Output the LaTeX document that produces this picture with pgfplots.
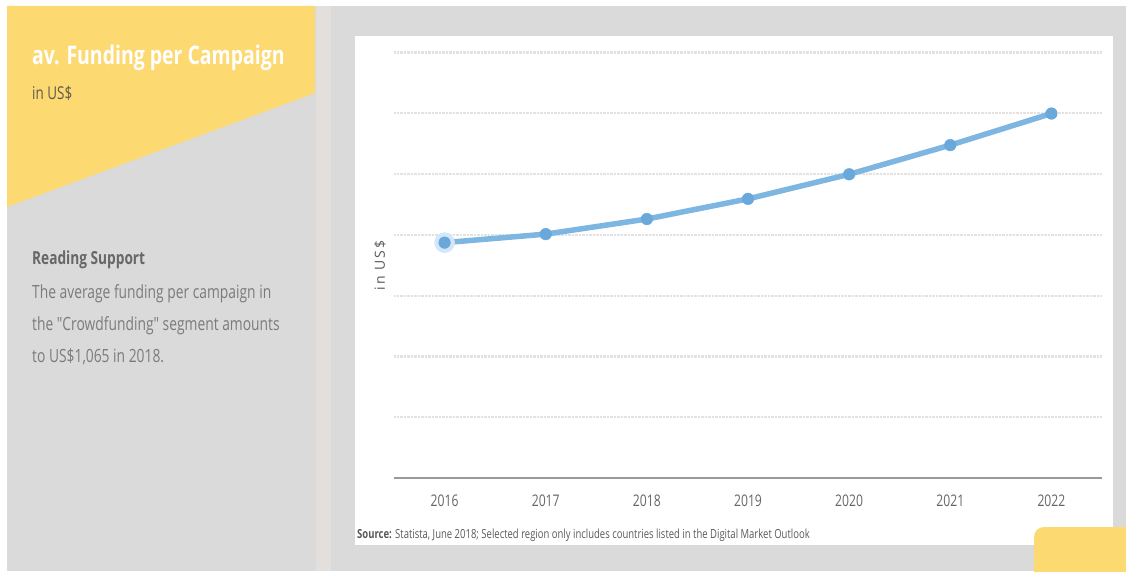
\documentclass[border=0pt]{standalone}
\usepackage{pgfplots}
\pgfplotsset{compat=1.18}
\usepackage{fontspec}
\setmainfont{Open Sans}[FakeStretch=0.76]
\newfontfamily\ylabfont{Open Sans}[LetterSpace=15]
\definecolor{bggray}{HTML}{DADADA}
\definecolor{strip}{HTML}{E2DFDD}
\definecolor{yel}{HTML}{FDD971}
\definecolor{linecol}{HTML}{7EB6E2}
\definecolor{markcol}{HTML}{6AA8DC}
\definecolor{halo}{HTML}{D3E7F8}
\definecolor{gridgray}{HTML}{E2E2E2}
\definecolor{axisgray}{HTML}{9A9A9A}
\definecolor{ticklab}{HTML}{666666}
\definecolor{subcol}{HTML}{5D5A4C}
\definecolor{headcol}{HTML}{676767}
\definecolor{bodycol}{HTML}{7B7B7B}
\definecolor{srccol}{HTML}{5A5A5A}
\begin{document}
\begin{tikzpicture}
\begin{scope}[x=1pt,y=1pt]
\path[use as bounding box] (0,0) rectangle (1126,571);
\fill[white] (0,0) rectangle (1126,571);
\fill[bggray] (7,0) rectangle (1126,565);
\fill[strip] (316,0) rectangle (331,565);
\fill[yel] (7,565) -- (315,565) -- (315,478) -- (7,364) -- cycle;
\fill[white] (355,26) rectangle (1113,535);
% left panel texts
\node[anchor=base west, inner sep=0, text=white] at (32,506) {\fontsize{25.6}{30}\selectfont\bfseries av. Funding per Campaign};
\node[anchor=base west, inner sep=0, text=subcol] at (32,471) {\fontsize{17.7}{21}\selectfont in US\$};
\node[anchor=base west, inner sep=0, text=headcol] at (32,306) {\fontsize{18}{22}\selectfont\bfseries Reading Support};
\node[anchor=base west, inner sep=0, text=bodycol] at (32,273) {\fontsize{18.2}{22}\selectfont The average funding per campaign in};
\node[anchor=base west, inner sep=0, text=bodycol] at (32,241) {\fontsize{18.2}{22}\selectfont\addfontfeatures{Ligatures=TeXOff}the "Crowdfunding" segment amounts};
\node[anchor=base west, inner sep=0, text=bodycol] at (32,209) {\fontsize{18.2}{22}\selectfont to US\$1,065 in 2018.};
\node[anchor=base west, inner sep=0, text=srccol] at (357,33) {\fontsize{12.5}{15}\selectfont\textbf{Source:} Statista, June 2018; Selected region only includes countries listed in the Digital Market Outlook};
\end{scope}
\begin{axis}[
  at={(394pt,93pt)}, anchor=south west,
  scale only axis, width=708pt, height=425.5pt,
  xmin=2015.5, xmax=2022.5, ymin=0, ymax=1750,
  axis lines*=left,
  axis line style={-},
  y axis line style={draw=none},
  x axis line style={draw=axisgray, line width=1.3pt},
  /pgf/number format/assume math mode=true,
  xtick={2016,2017,2018,2019,2020,2021,2022},
  xticklabels={2016,2017,2018,2019,2020,2021,2022},
  xticklabel style={anchor=center, yshift=-23pt, text=ticklab, font=\fontsize{16}{19}\selectfont},
  ytick={250,500,750,1000,1250,1500,1750},
  yticklabels={},
  major tick length=0pt,
  tick style={draw=none},
  ymajorgrids,
  grid style={densely dotted, line width=2.2pt, gridgray},
  ylabel={in US\$},
  every axis y label/.style={at={(axis description cs:0,0.5)}, xshift=-14pt, rotate=90, anchor=center, text=srccol, font=\ylabfont\fontsize{14}{17}\selectfont},
  clip=false,
]
\addplot[halo, only marks, mark=*, mark size=10pt, mark options={solid, fill=halo, draw=halo, line width=0.5pt}] coordinates {(2016,968)};
\addplot[linecol, line width=5.5pt, mark=*, mark size=5.8pt, mark options={solid, fill=markcol, draw=markcol, line width=0.5pt}] coordinates {
  (2016,968) (2017,1003) (2018,1065) (2019,1148) (2020,1249) (2021,1369) (2022,1499)
};
\end{axis}
\begin{scope}[x=1pt,y=1pt]
\clip (0,0) rectangle (1126,571);
\fill[yel, rounded corners=10pt] (1034,-20) rectangle (1150,44);
\end{scope}
\end{tikzpicture}
\end{document}
